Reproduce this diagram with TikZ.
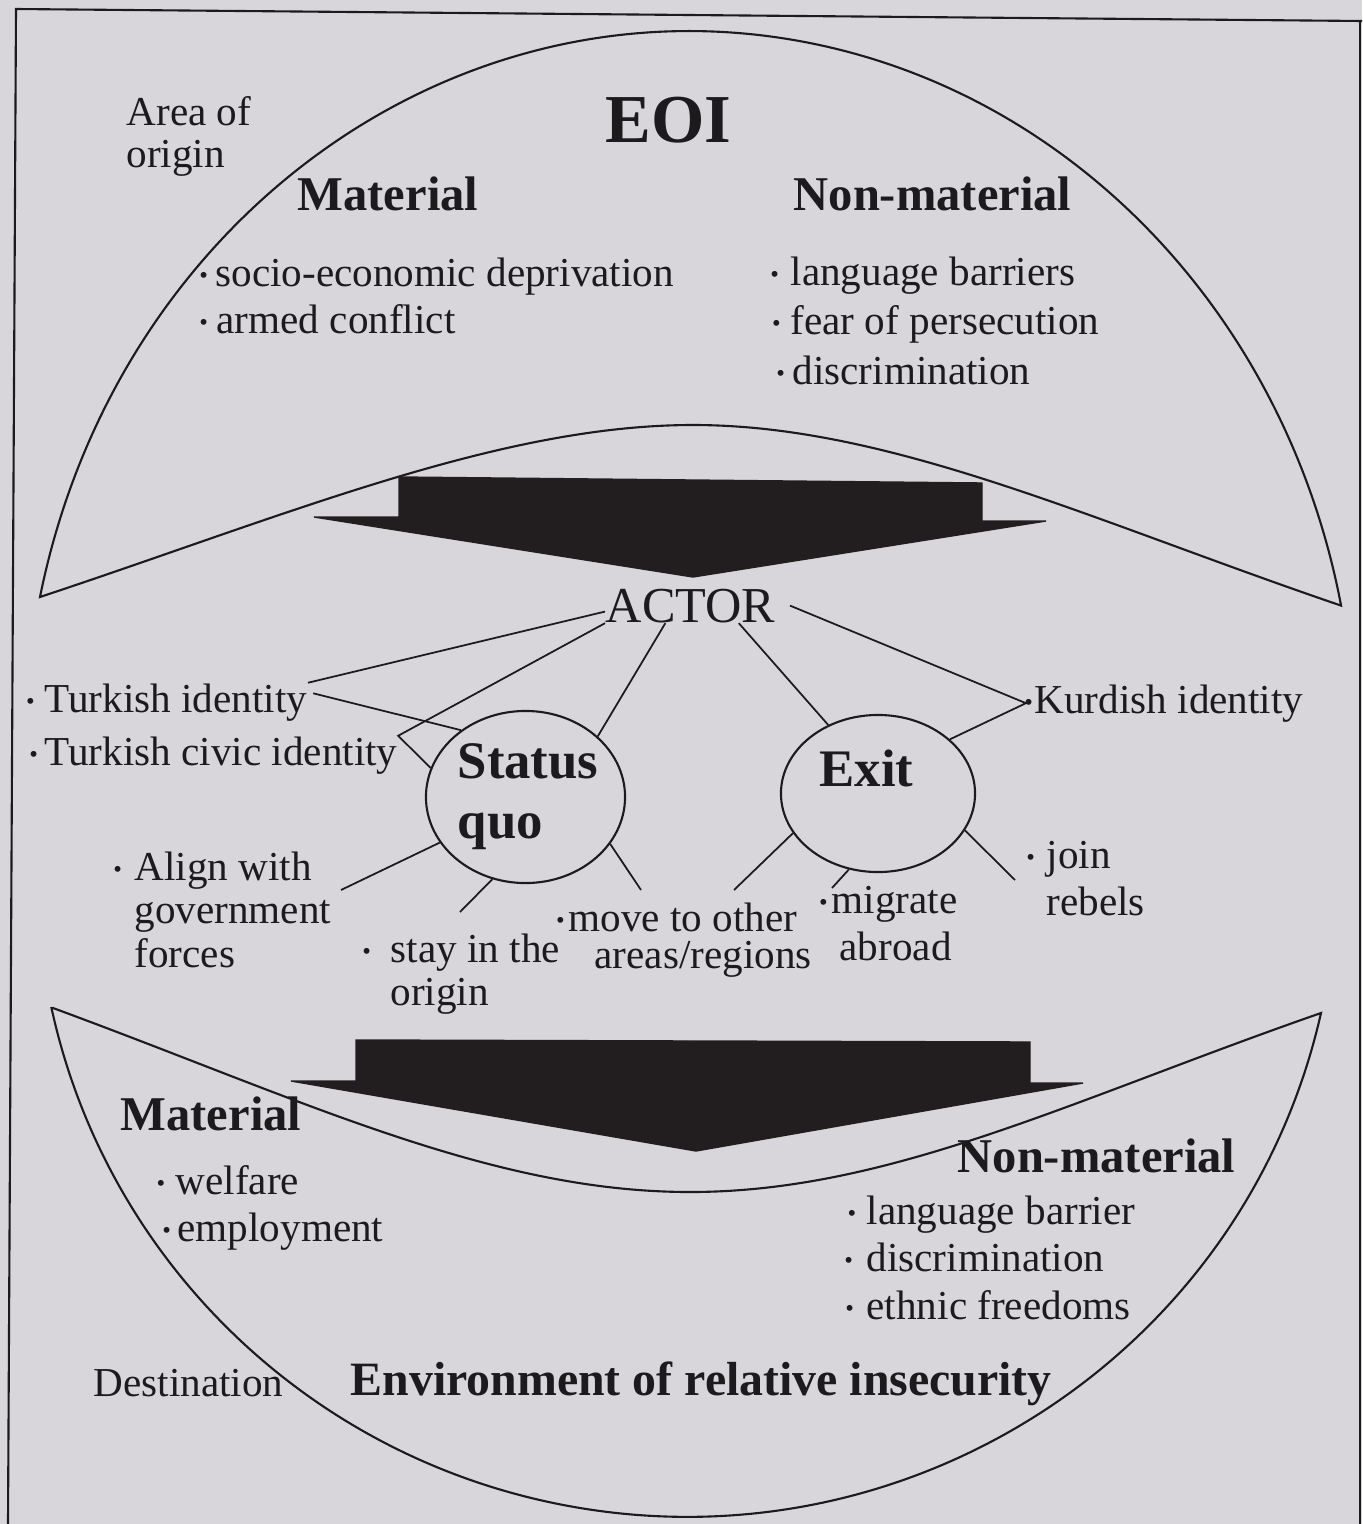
\documentclass[tikz,border=0pt]{standalone}
\usepackage{fontspec}
\setmainfont{Liberation Serif}
\usetikzlibrary{shapes.geometric}
\definecolor{paperbg}{RGB}{216,214,218}
\definecolor{ink}{RGB}{28,26,28}
\definecolor{arrowbk}{RGB}{34,30,31}
\newcommand{\bul}[1][1.8pt]{\llap{\raisebox{0.8pt}{\fontsize{7}{7}\selectfont\textbullet}\hspace{#1}}}

\begin{document}
\begin{tikzpicture}[x=0.01cm, y=-0.01cm,
  lbl/.style={anchor=base west, inner sep=0pt, text=ink, font=\fontsize{11.7}{14}\selectfont},
  hd/.style={anchor=base west, inner sep=0pt, text=ink, font=\bfseries\fontsize{13.8}{16}\selectfont},
  choice/.style={draw=ink, line width=0.6pt, ellipse, inner sep=0pt},
  link/.style={draw=ink, line width=0.5pt},
  rim/.style={draw=ink, line width=0.6pt},
  bigarrow/.style={fill=arrowbk, draw=arrowbk, line width=0.4pt}]

  % paper and frame (open at the bottom)
  \fill[paperbg] (0,0) rectangle (1362,1524);
  \useasboundingbox (0,0) rectangle (1362,1524);
  \draw[rim] (8,1524) -- (16,9) -- (1362,21);
  \draw[rim] (1360,21) -- (1360,1524);

  % area of origin (upper lens)
  \draw[rim] (40,597) arc[start angle=192.3, end angle=348.4, x radius=665, y radius=719]
    .. controls (1090,520) and (890,425) .. (693,425)
    .. controls (500,425) and (290,514) .. (40,597) -- cycle;

  % destination (lower lens)
  \draw[rim] (53,1008) .. controls (303,1100) and (490,1192) .. (690,1192)
    .. controls (890,1192) and (1071,1100) .. (1321,1013)
    arc[start angle=12.65, end angle=167.8, x radius=650, y radius=645] -- cycle;

  % flow arrows
  \draw[bigarrow] (399,477) -- (982,483) -- (982,521) -- (1046,521) -- (693,577)
    -- (314,517) -- (399,517) -- cycle;
  \draw[bigarrow] (356,1040) -- (1030,1042) -- (1030,1083) -- (1083,1083) -- (696,1151)
    -- (291,1081) -- (356,1081) -- cycle;

  % headings of the origin
  \node[lbl] (areaA) at (126,125) {Area of};
  \node[lbl] (areaB) at (126,167) {origin};
  \node[hd, font=\bfseries\fontsize{19.5}{22}\selectfont] (eoi) at (605,142) {EOI};
  \node[hd] (matT) at (297,210) {Material};
  \node[hd] (nmatT) at (793,210) {Non-material};

  % bullet items: name / x / y / bullet gap / text
  \foreach \nm/\xx/\yy/\gp/\tx in {
      socio/215/286/2.2pt/socio-economic deprivation,
      armed/216/333/2.5pt/armed conflict,
      lang/790/285/3.3pt/language barriers,
      fear/790/334/2.8pt/fear of persecution,
      disc/792/384/2.2pt/discrimination,
      tid/44/712/2.8pt/Turkish identity,
      civ/44/765/1.9pt/Turkish civic identity,
      kid/1034/713/0.5pt/Kurdish identity,
      alA/134/880/3.6pt/Align with,
      stA/390/962/5.6pt/stay in the,
      mvA/568/931/1.1pt/move to  other,
      miA/831/913/1.1pt/migrate,
      joA/1046/868/3.3pt/join,
      welf/175/1194/3pt/welfare,
      empl/177/1241/1.9pt/employment,
      langB/866/1224/3pt/language barrier,
      discB/866/1271/3.9pt/discrimination,
      ethn/866/1319/3.6pt/ethnic freedoms}
    \node[lbl] (\nm) at (\xx,\yy) {\bul[\gp]\tx};

  % second lines of the items
  \node[lbl] (alB) at (134,923) {government};
  \node[lbl] (alC) at (134,967) {forces};
  \node[lbl] (stB) at (390,1005) {origin};
  \node[lbl] (mvB) at (594,968) {areas/regions};
  \node[lbl] (miB) at (839,960) {abroad};
  \node[lbl] (joB) at (1046,915) {rebels};

  % actor and the two choices
  \node[lbl, font=\fontsize{14.3}{16}\selectfont] (actor) at (605,622) {ACTOR};
  \node[choice, minimum width=1.99cm, minimum height=1.72cm] (sq) at (525.5,797) {};
  \node[choice, minimum width=1.94cm, minimum height=1.57cm] (ex) at (878,793.5) {};
  \node[hd, font=\bfseries\fontsize{15}{17}\selectfont] (sqA) at (457,778) {Status};
  \node[hd, font=\bfseries\fontsize{15}{17}\selectfont] (sqB) at (457,838) {quo};
  \node[hd, font=\bfseries\fontsize{15}{17}\selectfont] (exA) at (819,786) {Exit};

  % headings of the destination
  \node[hd] (matB) at (120,1130) {Material};
  \node[hd] (nmatB) at (957,1172) {Non-material};
  \node[lbl] (dest) at (93,1396) {Destination};
  \node[hd, font=\bfseries\fontsize{13.6}{16}\selectfont] (env) at (350,1395) {Environment of relative insecurity};

  % actor to identities and choices
  \draw[link] (actor.184) -- (tid.north east);
  \draw[link] ([xshift=1.5pt,yshift=-3pt]tid.north east) -- (sq.134);
  \draw[link] (actor.south west) -- (civ.north east) -- (sq.163);
  \draw[link] (actor.215) -- (sq.40);
  \draw[link] (actor.340) -- (ex.126);
  \draw[link] ([xshift=4pt]actor.east) -- ([xshift=-2.3pt]kid.west) -- (ex.37);

  % choices to outcomes
  \coordinate (alEnd) at (341,890);
  \coordinate (stEnd) at (460,912);
  \coordinate (mvEnd) at (641,890);
  \coordinate (exMv) at (734,890);
  \coordinate (miEnd) at (832,888);
  \coordinate (joEnd) at (1015,880);
  \draw[link] (sq.208) -- (alEnd);
  \draw[link] (sq.248) -- (stEnd);
  \draw[link] (sq.331) -- (mvEnd);
  \draw[link] (ex.205) -- (exMv);
  \draw[link] (ex.249) -- (miEnd);
  \draw[link] (ex.337) -- (joEnd);
\end{tikzpicture}
\end{document}
